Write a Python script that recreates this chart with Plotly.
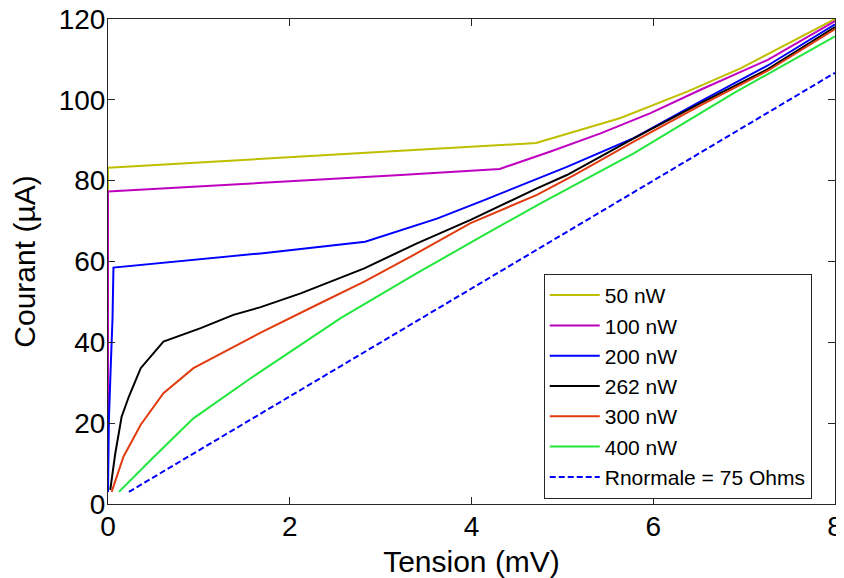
import plotly.graph_objects as go

# ---- data ----
x_50 = [0, 0, 3.22, 4.71, 5.64, 6.38, 6.96, 8.0]
y_50 = [3, 83.2, 87.4, 89.3, 95.5, 102.1, 107.8, 120.0]

x_100 = [0, 0, 3.22, 4.31, 4.87, 5.42, 5.97, 6.52, 7.26, 8.0]
y_100 = [3, 77.3, 81.4, 82.9, 87.2, 91.7, 96.7, 102.5, 109.9, 119.5]

x_200 = [0, 0.01, 0.03, 0.05, 0.06, 1.68, 2.83, 3.22, 3.62, 4.14, 4.72, 5.05, 5.79, 6.52, 7.26, 8.0]
y_200 = [3, 21, 34, 46, 58.5, 62.0, 64.9, 67.8, 70.6, 75.2, 80.3, 83.4, 90.6, 99.6, 108.5, 118.7]

x_262 = [0.025, 0.08, 0.15, 0.23, 0.36, 0.61, 1.02, 1.38, 1.68, 2.12, 2.82, 3.40, 3.99, 4.72, 5.05, 5.79, 6.52, 7.26, 8.0]
y_262 = [3.5, 12.5, 21.6, 26.6, 33.6, 40.2, 43.5, 46.8, 48.7, 52.1, 58.3, 64.5, 70.3, 78.1, 81.4, 90.5, 99.2, 107.6, 118.0]

x_300 = [0.04, 0.17, 0.36, 0.61, 0.94, 1.31, 1.68, 2.30, 2.82, 3.33, 3.99, 4.72, 5.13, 5.79, 6.52, 7.26, 8.0]
y_300 = [3.0, 11.7, 19.6, 27.4, 33.6, 38.1, 42.4, 49.3, 55.0, 61.2, 69.5, 76.5, 81.4, 89.7, 98.6, 107.2, 117.5]

x_400 = [0.12, 0.47, 0.94, 1.57, 2.56, 3.40, 4.14, 4.76, 5.79, 6.89, 8.0]
y_400 = [3.0, 10.9, 21.2, 31.1, 46.0, 57.1, 66.6, 74.4, 86.8, 101.7, 115.7]

x_rn = [0.23, 8.0]
y_rn = [3.0, 106.7]

names = ["50 nW", "100 nW", "200 nW", "262 nW", "300 nW", "400 nW", "Rnormale = 75 Ohms"]
colors = ["#bfbf00", "#bf00bf", "#0000ff", "#000000", "#e03c10", "#22e63c", "#0000ff"]

xs = [x_50, x_100, x_200, x_262, x_300, x_400, x_rn]
ys = [y_50, y_100, y_200, y_262, y_300, y_400, y_rn]

fig = go.Figure()
for i, (xx, yy) in enumerate(zip(xs, ys)):
    dash = "6px,3px" if i == 6 else "solid"
    fig.add_trace(go.Scatter(x=xx, y=yy, mode="lines", name=names[i],
                             line=dict(color=colors[i], width=2, dash=dash)))

FONT = "Liberation Sans, Arial, sans-serif"
axis_common = dict(showgrid=False, zeroline=False, showline=True, linecolor="#262626",
                   linewidth=1, mirror="ticks", ticks="inside", ticklen=7,
                   tickcolor="#262626", automargin=False, ticklabeloverflow="allow",
                   tickfont=dict(size=28, color="black", family=FONT))

# the page body adds an 8px offset, so the figure is 8px smaller on each axis
fig.update_layout(
    width=836, height=570,
    margin=dict(l=100, r=9, t=11, b=74),
    paper_bgcolor="white", plot_bgcolor="white",
    font=dict(family=FONT, color="black"),
    xaxis=dict(range=[0, 8], tickvals=[0, 2, 4, 6, 8], ticklabelstandoff=-3,
               title=dict(text="Tension (mV)", font=dict(size=30), standoff=12), **axis_common),
    yaxis=dict(range=[0, 120], tickvals=[0, 20, 40, 60, 80, 100, 120], ticklabelstandoff=-4,
               title=dict(text="Courant (µA)", font=dict(size=30), standoff=19), **axis_common),
    legend=dict(x=0.968, y=0.2424, xanchor="right", yanchor="middle",
                bgcolor="white", bordercolor="#262626", borderwidth=1,
                font=dict(size=21, family=FONT, color="black"),
                tracegroupgap=0, itemwidth=50),
    showlegend=True,
)

fig.write_html("out.html")
